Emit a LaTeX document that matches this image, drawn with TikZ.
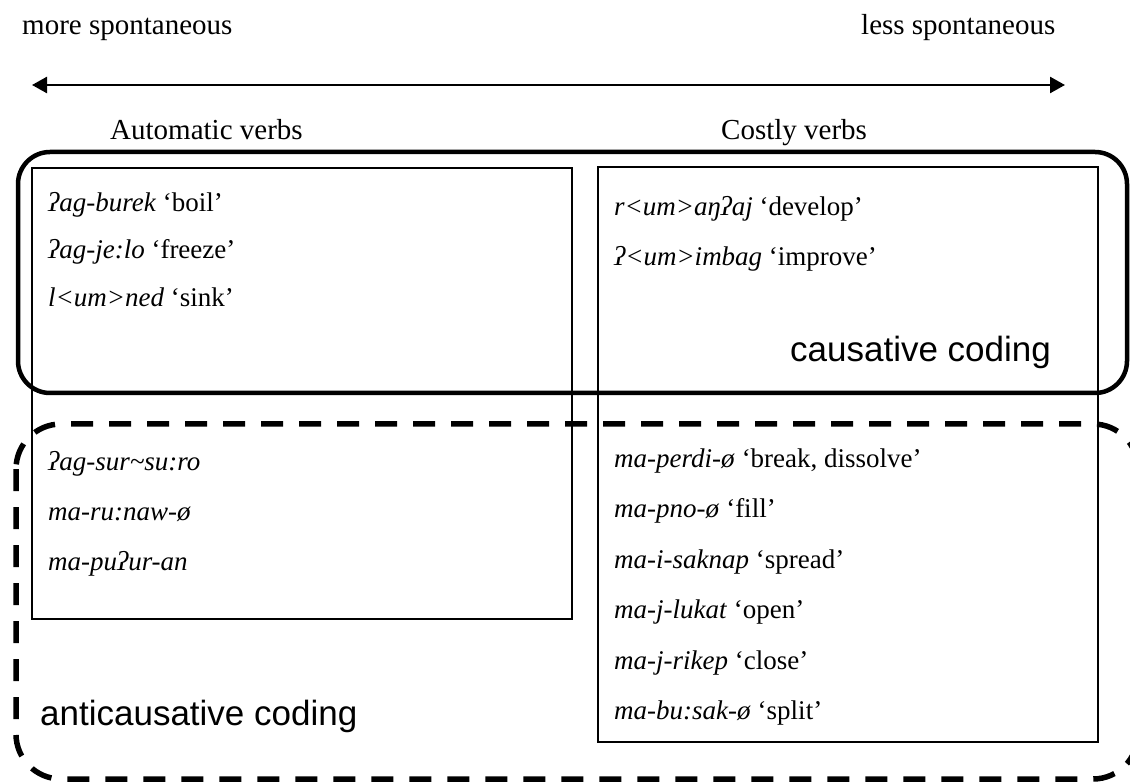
\documentclass[tikz,border=0pt]{standalone}
\usepackage{fontspec}
\setmainfont{Liberation Serif}
\setsansfont{Liberation Sans}
\usetikzlibrary{arrows.meta}

\tikzset{
  gloss/.style={inner sep=0pt, anchor=base west, font=\fontsize{27}{30}\selectfont},
  scalelabel/.style={inner sep=0pt, anchor=base west, font=\fontsize{29}{32}\selectfont},
  coding/.style={inner sep=0pt, anchor=base west, font=\sffamily\fontsize{35}{40}\selectfont},
  verbbox/.style={draw, line width=1.3pt, inner sep=0pt, outer sep=0pt, anchor=north west},
  causbox/.style={draw, line width=4.5pt, rounded corners=32pt},
  anticausbox/.style={draw, line width=5.5pt, rounded corners=45pt, dash pattern=on 22pt off 16pt},
  scalearrow/.style={line width=2.5pt, {Triangle[length=15pt,width=16pt]}-{Triangle[length=15pt,width=16pt]}}
}

\begin{document}
\begin{tikzpicture}[x=1pt,y=-1pt]
\useasboundingbox (0,0) rectangle (1130,783);

% spontaneity scale
\node[scalelabel] (more) at (22,35) {more spontaneous};
\node[scalelabel] (less) at (861,35) {less spontaneous};
\coordinate (scaleL) at (32,85);
\coordinate (scaleR) at (1065,85);
\draw[scalearrow] (scaleL) -- (scaleR);

% verb classes
\node[scalelabel] (autohead) at (110,140) {Automatic verbs};
\node[scalelabel] (costhead) at (721,140) {Costly verbs};

\node[verbbox, minimum width=540pt, minimum height=451pt] (autobox) at (32,168) {};
\node[verbbox, minimum width=500pt, minimum height=575pt] (costbox) at (598,167) {};

% coding regions
\draw[causbox] (18,152) rectangle (1127,393);
\draw[anticausbox] (16,424) rectangle (1138,779);

% automatic verbs
\node[gloss] (a1) at (48,212) {\textit{ʔag-burek} ‘boil’};
\node[gloss] (a2) at (48,259) {\textit{ʔag-je:lo} ‘freeze’};
\node[gloss] (a3) at (48,307) {\textit{l<um>ned} ‘sink’};
\node[gloss] (a4) at (48,470) {\textit{ʔag-sur\textasciitilde su:ro}};
\node[gloss] (a5) at (48,520) {\textit{ma-ru:naw-ø}};
\node[gloss] (a6) at (48,570) {\textit{ma-puʔur-an}};

% costly verbs
\node[gloss] (c1) at (614,216) {\textit{r<um>aŋʔaj} ‘develop’};
\node[gloss] (c2) at (614,266) {\textit{ʔ<um>imbag} ‘improve’};
\node[gloss] (c3) at (614,467) {\textit{ma-perdi-ø} ‘break, dissolve’};
\node[gloss] (c4) at (614,517.5) {\textit{ma-pno-ø} ‘fill’};
\node[gloss] (c5) at (614,568) {\textit{ma-i-saknap} ‘spread’};
\node[gloss] (c6) at (614,618.5) {\textit{ma-j-lukat} ‘open’};
\node[gloss] (c7) at (614,669) {\textit{ma-j-rikep} ‘close’};
\node[gloss] (c8) at (614,719.5) {\textit{ma-bu:sak-ø} ‘split’};

% region labels
\node[coding] (caus) at (790,362) {causative coding};
\node[coding] (anticaus) at (40,725) {anticausative coding};
\end{tikzpicture}
\end{document}
